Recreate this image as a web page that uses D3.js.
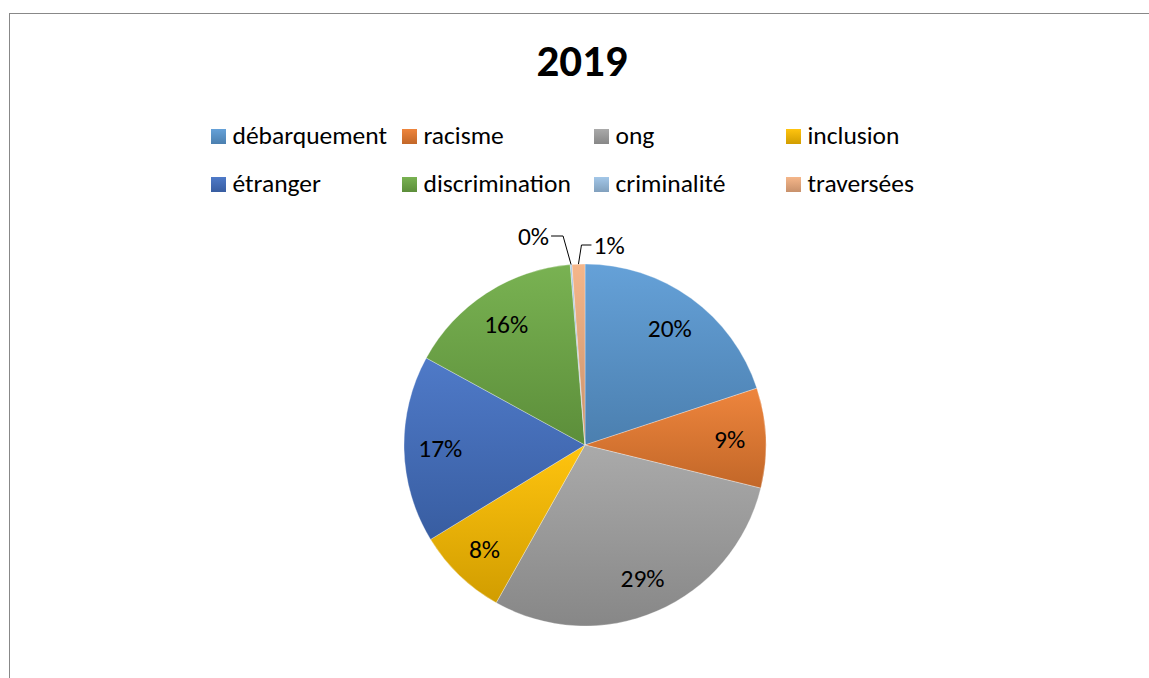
<!DOCTYPE html>
<html>
<head>
<meta charset="utf-8">
<script src="https://cdn.jsdelivr.net/npm/d3@7"></script>
<style>
  html, body { margin: 0; padding: 0; background: #fff; }
  svg { display: block; }
  text { font-family: Calibri, Carlito, Lato, "Open Sans", sans-serif; fill: #000; }
</style>
</head>
<body>
<svg id="chart" width="1149" height="678"></svg>
<script>
// ---- data ----
const title = "2019";
const categories = ["débarquement", "racisme", "ong", "inclusion", "étranger", "discrimination", "criminalité", "traversées"];
const values = [19.9, 8.9, 29.3, 8.1, 16.7, 15.7, 0.15, 1.15];
const colors = ["#5B9BD5", "#ED7D31", "#A5A5A5", "#FFC000", "#4472C4", "#70AD47", "#9DC3E6", "#F4B183"];

// ---- layout ----
const W = 1149, H = 678;
const cx = 585, cy = 445, R = 181;
const svg = d3.select("#chart");

// frame
svg.append("rect").attr("x", 9.5).attr("y", 13.5).attr("width", 1300).attr("height", 1000)
  .attr("fill", "#fff").attr("stroke", "#888").attr("stroke-width", 1);

// title
svg.append("text").attr("x", 582).attr("y", 76).attr("text-anchor", "middle")
  .style("font-size", "45px").style("font-weight", "bold").text(title);

// gradients
const defs = svg.append("defs");
colors.forEach((c, i) => {
  const g = defs.append("linearGradient").attr("id", "grad" + i)
    .attr("x1", 0).attr("y1", 0).attr("x2", 0).attr("y2", 1);
  g.append("stop").attr("offset", "0%").attr("stop-color", d3.interpolateRgb(c, "#fff")(0.06));
  g.append("stop").attr("offset", "100%").attr("stop-color", d3.interpolateRgb(c, "#000")(0.18));
});

// legend
const colX = [211, 402, 594, 786];
const rowY = [144, 192];
const lg = svg.append("g");
categories.forEach((name, i) => {
  const x = colX[i % 4], y = rowY[Math.floor(i / 4)];
  lg.append("rect").attr("x", x).attr("y", y - 15).attr("width", 15).attr("height", 15)
    .attr("fill", "url(#grad" + i + ")");
  lg.append("text").attr("x", x + 21.5).attr("y", y).style("font-size", "25.5px").text(name);
});

// pie
const total = d3.sum(values);
const pie = d3.pie().sort(null).value(d => d);
const arcs = pie(values);
const arc = d3.arc().innerRadius(0).outerRadius(R);
const g = svg.append("g").attr("transform", `translate(${cx},${cy})`);
g.selectAll("path").data(arcs).join("path")
  .attr("d", arc)
  .attr("fill", (d, i) => "url(#grad" + i + ")")
  .attr("stroke", "#fff").attr("stroke-opacity", 0.6).attr("stroke-width", 0.5);

const fmt = d3.format(".0%");
const labelArc = d3.arc().innerRadius(R * 0.8).outerRadius(R * 0.8);
arcs.forEach((d, i) => {
  const txt = fmt(d.value / total);
  if (d.value / total >= 0.02) {
    const [lx, ly] = labelArc.centroid(d);
    g.append("text").attr("x", lx).attr("y", ly + 9).attr("text-anchor", "middle")
      .style("font-size", "25.5px").text(txt);
  } else {
    const mid = (d.startAngle + d.endAngle) / 2;
    const ex = R * Math.sin(mid), ey = -R * Math.cos(mid);
    const left = i === 6;
    const ly = left ? -209 : -200;
    const kx = left ? ex - 8 : ex + 3;
    const hx = left ? kx - 12 : kx + 10;
    g.append("path")
      .attr("d", `M${hx},${ly}L${kx},${ly}L${ex},${ey}`)
      .attr("fill", "none").attr("stroke", "#000").attr("stroke-width", 1);
    g.append("text").attr("x", left ? hx - 2 : hx + 2).attr("y", ly + 9)
      .attr("text-anchor", left ? "end" : "start")
      .style("font-size", "25.5px").text(txt);
  }
});
</script>
</body>
</html>
